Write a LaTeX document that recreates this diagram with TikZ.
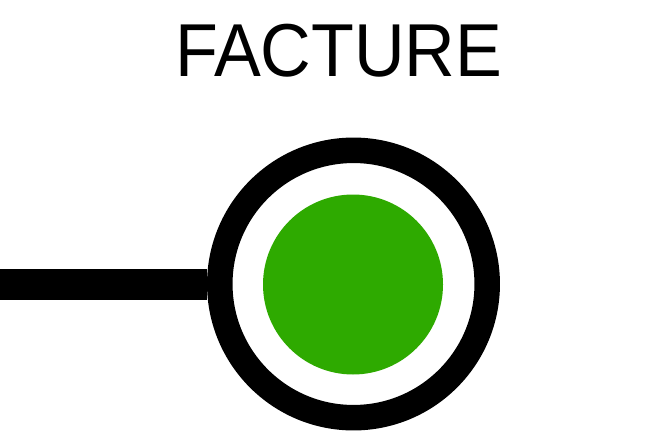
\documentclass[tikz,border=0pt]{standalone}
\usepackage{fontspec}
\setmainfont{Liberation Sans}
\usepackage{tikz}

\definecolor{okgreen}{HTML}{2EAA00}

\begin{document}
\begin{tikzpicture}[
  x=1pt, y=-1pt,
  title/.style={inner sep=0pt, font=\fontsize{75}{80}\selectfont, xscale=0.935, transform shape},
  ring/.style={circle, draw, line width=25.5pt, inner sep=0pt, minimum size=267.4pt},
  lamp/.style={circle, fill=okgreen, inner sep=0pt, minimum size=180pt},
  wire/.style={draw, line width=31pt},
]
  \useasboundingbox (0,0) rectangle (650,447);

  % Title
  \node[title] (label) at (338.7,50.3) {FACTURE};

  % Status indicator
  \node[ring] (ring) at (353.5,284) {};
  \node[lamp] (lamp) at (353,284.5) {};

  % Incoming wire
  \coordinate (start) at (-5,284);
  \draw[wire] (start) -- (ring.west);
\end{tikzpicture}
\end{document}
